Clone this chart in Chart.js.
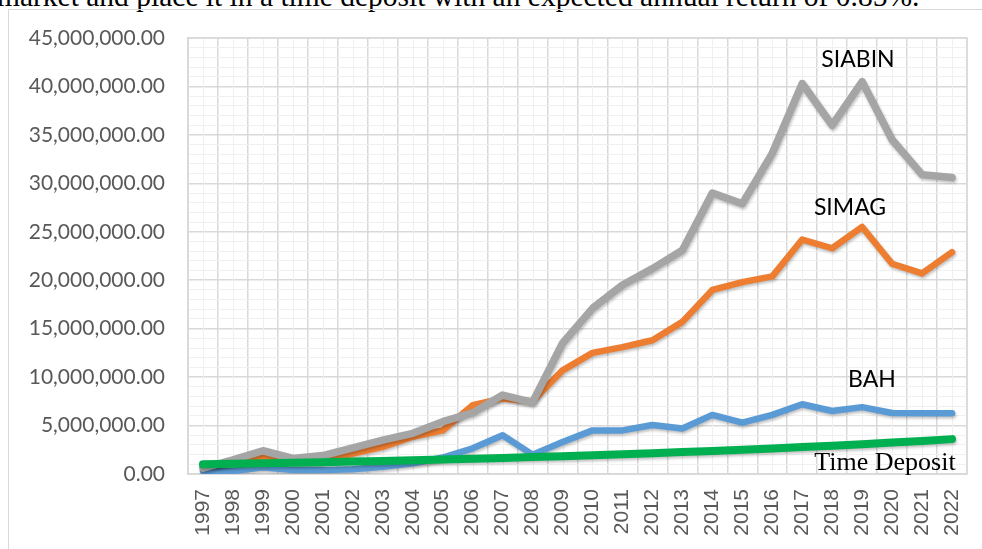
<!DOCTYPE html>
<html>
<head>
<meta charset="utf-8">
<script src="https://cdn.jsdelivr.net/npm/chart.js@4.4.1/dist/chart.umd.min.js"></script>
<style>
  html, body { margin: 0; padding: 0; background: #fff; overflow: hidden; }
  #wrap { position: relative; width: 982px; height: 549px; }
  #lead {
    position: absolute; left: -3px; top: -20px; white-space: nowrap;
    font-family: "Liberation Serif", serif; font-size: 29.5px; color: #000;
  }
  #frame {
    position: absolute; left: 8px; top: 9px; width: 990px; height: 560px;
    border: 1px solid #d9d9d9; box-sizing: border-box;
  }
  #chart { position: absolute; left: 0; top: 0; }
</style>
</head>
<body>
<div id="wrap">
  <div id="lead">market and place it in a time deposit with an expected annual return of 0.85%.</div>
  <div id="frame"></div>
  <canvas id="chart" width="982" height="549"></canvas>
</div>
<script>
const years = ['1997','1998','1999','2000','2001','2002','2003','2004','2005','2006','2007','2008','2009',
  '2010','2011','2012','2013','2014','2015','2016','2017','2018','2019','2020','2021','2022'];

const siabin = [0.6, 1.45, 2.4, 1.6, 1.9, 2.7, 3.5, 4.2, 5.4, 6.3, 8.15, 7.4, 13.5,
  17.1, 19.5, 21.2, 23.1, 29.0, 27.9, 33.1, 40.3, 36.0, 40.5, 34.5, 30.9, 30.6];
const simag = [0.8, 1.1, 1.7, 1.3, 1.3, 2.1, 2.8, 3.85, 4.5, 7.1, 7.8, 7.5, 10.7,
  12.5, 13.1, 13.8, 15.7, 19.0, 19.8, 20.4, 24.2, 23.3, 25.5, 21.7, 20.7, 22.9];
const bah = [0.3, 0.3, 0.7, 0.4, 0.4, 0.5, 0.75, 1.1, 1.7, 2.65, 4.0, 2.0, 3.3,
  4.5, 4.5, 5.05, 4.7, 6.1, 5.3, 6.1, 7.2, 6.5, 6.9, 6.3, 6.26, 6.26];
const timeDeposit = [1.0, 1.05, 1.1, 1.16, 1.22, 1.29, 1.35, 1.42, 1.5, 1.58, 1.66, 1.75, 1.84,
  1.94, 2.04, 2.15, 2.26, 2.38, 2.5, 2.64, 2.78, 2.92, 3.08, 3.24, 3.41, 3.6];

const million = v => v * 1000000;

// text labels placed next to the lines
const seriesLabels = [
  { text: 'SIABIN', x: 858, y: 60, font: '23px Lato' },
  { text: 'SIMAG', x: 850, y: 208, font: '23px Lato' },
  { text: 'BAH', x: 872, y: 380, font: '23px Lato' },
  { text: 'Time Deposit', x: 885, y: 463, font: '26px "Liberation Serif"' }
];

const extras = {
  id: 'extras',
  beforeDatasetsDraw(chart) {
    const { ctx, chartArea: a, scales: { x } } = chart;
    ctx.save();
    // lighter grid lines through the category centres
    ctx.strokeStyle = '#f0f0f0';
    ctx.lineWidth = 1;
    years.forEach((y, i) => {
      const px = Math.round(x.getPixelForValue(i)) + 0.5;
      ctx.beginPath();
      ctx.moveTo(px, a.top);
      ctx.lineTo(px, a.bottom);
      ctx.stroke();
    });
    // plot area border
    ctx.strokeStyle = '#d9d9d9';
    ctx.lineWidth = 1.5;
    ctx.strokeRect(a.left, a.top, a.right - a.left, a.bottom - a.top);
    ctx.restore();
  },
  beforeDatasetDraw(chart) {
    const ctx = chart.ctx;
    ctx.save();
    ctx.shadowColor = 'rgba(0,0,0,0.25)';
    ctx.shadowBlur = 3;
    ctx.shadowOffsetX = 1;
    ctx.shadowOffsetY = 2;
  },
  afterDatasetDraw(chart) {
    chart.ctx.restore();
  },
  afterDraw(chart) {
    const ctx = chart.ctx;
    ctx.save();
    ctx.fillStyle = '#000';
    ctx.textAlign = 'center';
    ctx.textBaseline = 'middle';
    seriesLabels.forEach(l => {
      ctx.font = l.font;
      ctx.fillText(l.text, l.x, l.y);
    });
    ctx.restore();
  }
};

new Chart(document.getElementById('chart'), {
  type: 'line',
  data: {
    labels: years,
    datasets: [
      { label: 'Time Deposit', data: timeDeposit.map(million), borderColor: '#00b050', borderWidth: 8 },
      { label: 'SIABIN', data: siabin.map(million), borderColor: '#a5a5a5', borderWidth: 7.5 },
      { label: 'SIMAG', data: simag.map(million), borderColor: '#ed7d31', borderWidth: 6.5 },
      { label: 'BAH', data: bah.map(million), borderColor: '#5b9bd5', borderWidth: 6.5 }
    ]
  },
  options: {
    responsive: false,
    animation: false,
    layout: { padding: { top: 38, right: 15, left: 0, bottom: 0 } },
    elements: {
      point: { radius: 0 },
      line: { tension: 0, borderCapStyle: 'round', borderJoinStyle: 'round' }
    },
    plugins: { legend: { display: false }, tooltip: { enabled: false } },
    scales: {
      x: {
        offset: true,
        grid: { offset: true, color: '#d9d9d9', lineWidth: 1.5, drawTicks: false },
        border: { color: '#d9d9d9', width: 1.5 },
        ticks: {
          color: '#595959', minRotation: 90, maxRotation: 90, autoSkip: false, padding: 15,
          font: { family: '"Liberation Sans"', size: 21 }
        },
        afterFit: s => { s.height = 75; s.paddingLeft = 0; s.paddingRight = 0; }
      },
      y: {
        min: 0, max: 45000000,
        grid: {
          drawTicks: false,
          color: c => (c.tick.value % 5000000 === 0 ? '#d9d9d9' : '#f0f0f0'),
          lineWidth: c => (c.tick.value % 5000000 === 0 ? 1.5 : 1)
        },
        border: { color: '#d9d9d9', width: 1.5 },
        ticks: {
          stepSize: 1000000, autoSkip: false, color: '#595959', padding: 23,
          font: { family: 'Lato', size: 21 },
          callback: v => (v % 5000000 === 0
            ? v.toLocaleString('en-US', { minimumFractionDigits: 2, maximumFractionDigits: 2 }) : '')
        },
        afterFit: s => { s.width = 188; }
      }
    }
  },
  plugins: [extras]
});
</script>
</body>
</html>
